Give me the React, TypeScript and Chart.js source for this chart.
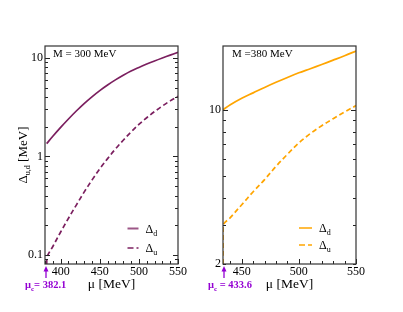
import React, { useEffect, useRef } from "react";
import { Chart, registerables } from "chart.js";
Chart.register(...registerables);

// ---------- Left panel: M = 300 MeV ----------
const muDLeft = [382.1, 390, 400, 410, 420, 430, 440, 450, 460, 470, 480, 490, 500, 510, 520, 530, 540, 550];
const deltaDLeft = [1.35, 1.6, 1.97, 2.4, 2.89, 3.44, 4.03, 4.66, 5.31, 5.98, 6.67, 7.36, 8.0, 8.65, 9.31, 9.98, 10.67, 11.4];
const muULeft = [382.1, 383, 390, 400, 410, 420, 430, 440, 450, 460, 470, 480, 490, 500, 510, 520, 530, 540, 550];
const deltaULeft = [0.081, 0.097, 0.122, 0.171, 0.236, 0.321, 0.434, 0.575, 0.748, 0.95, 1.19, 1.46, 1.77, 2.11, 2.47, 2.85, 3.25, 3.66, 4.09];
const xTicksLeft = [400, 450, 500, 550];
const yTicksLeft = [0.1, 1, 10];
const muCLeft = "382.1";
const massLeft = "M = 300 MeV";

// ---------- Right panel: M = 380 MeV ----------
const muDRight = [433.6, 440, 450, 460, 470, 480, 490, 500, 510, 520, 530, 540, 550];
const deltaDRight = [10.05, 10.6, 11.35, 12.0, 12.7, 13.4, 14.1, 14.8, 15.45, 16.15, 16.9, 17.7, 18.6];
const muURight = [433.6, 433.6, 440, 450, 460, 470, 480, 490, 500, 510, 520, 530, 540, 550];
const deltaURight = [2.0, 2.98, 3.25, 3.72, 4.26, 4.84, 5.56, 6.31, 7.11, 7.83, 8.51, 9.16, 9.82, 10.5];
const xTicksRight = [450, 500, 550];
const yTicksRight = [2, 10];
const muCRight = "433.6";
const massRight = "M =380 MeV";

const FONT = "'Liberation Serif', 'Times New Roman', serif";
const VIOLET = "#9400d3";

type Part = { t: string; size: number; bold?: boolean; dy?: number };

function font(p: Part) {
  return `${p.bold ? "bold " : ""}${p.size}px ${FONT}`;
}
function richWidth(ctx: CanvasRenderingContext2D, parts: Part[]) {
  let w = 0;
  for (const p of parts) {
    ctx.font = font(p);
    w += ctx.measureText(p.t).width;
  }
  return w;
}
function drawRich(ctx: CanvasRenderingContext2D, x: number, y: number, parts: Part[], color: string) {
  ctx.fillStyle = color;
  ctx.textAlign = "left";
  ctx.textBaseline = "alphabetic";
  let cx = x;
  for (const p of parts) {
    ctx.font = font(p);
    ctx.fillText(p.t, cx, y + (p.dy || 0));
    cx += ctx.measureText(p.t).width;
  }
}

type Spec = {
  muD: number[];
  dD: number[];
  muU: number[];
  dU: number[];
  xMin: number;
  xMax: number;
  yMin: number;
  yMax: number;
  xTicks: number[];
  yTicks: number[];
  color: string;
  padRight: number;
  yWidth: number;
  yTitle: boolean;
  mass: string;
  massX: number;
  muC: string;
  muCX: number;
  muCSep: string;
  legendX: number;
  legendLen: number;
  legendY: number[];
};

function decor(s: Spec) {
  return {
    id: "decor",
    afterDatasetsDraw(chart: any) {
      const ctx: CanvasRenderingContext2D = chart.ctx;
      const a = chart.chartArea;
      const xs = chart.scales.x;
      const ys = chart.scales.y;
      ctx.save();
      // tick marks (inward)
      ctx.strokeStyle = "#222";
      ctx.lineWidth = 1;
      ctx.beginPath();
      for (let v = Math.ceil(xs.min / 10) * 10; v <= xs.max + 1e-6; v += 10) {
        const px = Math.round(xs.getPixelForValue(v)) + 0.5;
        const len = v % 50 === 0 ? 5 : 3;
        ctx.moveTo(px, a.bottom);
        ctx.lineTo(px, a.bottom - len);
      }
      const d0 = Math.floor(Math.log10(ys.min));
      const d1 = Math.ceil(Math.log10(ys.max));
      for (let d = d0; d <= d1; d++) {
        for (let m = 1; m <= 9; m++) {
          const v = m * Math.pow(10, d);
          if (v < ys.min * 0.999 || v > ys.max * 1.001) continue;
          const py = Math.round(ys.getPixelForValue(v)) + 0.5;
          const len = m === 1 ? 5 : 3;
          ctx.moveTo(a.left, py);
          ctx.lineTo(a.left + len, py);
          ctx.moveTo(a.right, py);
          ctx.lineTo(a.right - len, py);
        }
      }
      ctx.stroke();
      // frame
      ctx.strokeStyle = "#333";
      ctx.lineWidth = 1.2;
      ctx.strokeRect(a.left, a.top, a.right - a.left, a.bottom - a.top);

      // mass annotation
      drawRich(ctx, s.massX, 57, [{ t: s.mass, size: 11 }], "#000");

      // legend
      const entries: { sub: string; dash: number[] }[] = [
        { sub: "d", dash: [] },
        { sub: "u", dash: [6, 3] },
      ];
      entries.forEach((e, i) => {
        const y = s.legendY[i];
        ctx.save();
        ctx.strokeStyle = s.color;
        ctx.globalAlpha = 0.75;
        ctx.lineWidth = 2;
        ctx.setLineDash(e.dash);
        ctx.beginPath();
        ctx.moveTo(s.legendX, y);
        ctx.lineTo(s.legendX + s.legendLen, y);
        ctx.stroke();
        ctx.restore();
        drawRich(
          ctx,
          s.legendX + s.legendLen + 7,
          y + 4,
          [
            { t: "Δ", size: 12 },
            { t: e.sub, size: 8, dy: 3 },
          ],
          "#000"
        );
      });

      // mu_c arrow
      const ax = a.left + 1;
      ctx.strokeStyle = VIOLET;
      ctx.fillStyle = VIOLET;
      ctx.lineWidth = 1.3;
      ctx.beginPath();
      ctx.moveTo(ax, 278);
      ctx.lineTo(ax, 270);
      ctx.stroke();
      ctx.beginPath();
      ctx.moveTo(ax, 266);
      ctx.lineTo(ax - 2.5, 271.5);
      ctx.lineTo(ax + 2.5, 271.5);
      ctx.closePath();
      ctx.fill();
      drawRich(
        ctx,
        s.muCX,
        288,
        [
          { t: "μ", size: 10.5, bold: true },
          { t: "c", size: 7, bold: true, dy: 3 },
          { t: s.muCSep + s.muC, size: 10.5, bold: true },
        ],
        VIOLET
      );

      // y title with subscript
      if (s.yTitle) {
        const parts: Part[] = [
          { t: "Δ", size: 13 },
          { t: "u,d", size: 8, dy: 3 },
          { t: " [MeV]", size: 13 },
        ];
        const w = richWidth(ctx, parts);
        ctx.save();
        ctx.translate(22, (a.top + a.bottom) / 2);
        ctx.rotate(-Math.PI / 2);
        drawRich(ctx, -w / 2, 4.5, parts, "#000");
        ctx.restore();
      }
      ctx.restore();
    },
  };
}

function buildConfig(s: Spec): any {
  return {
    type: "line",
    data: {
      datasets: [
        {
          data: s.muD.map((x, i) => ({ x, y: s.dD[i] })),
          borderColor: s.color,
          borderWidth: 1.7,
          pointRadius: 0,
          tension: 0.35,
          fill: false,
        },
        {
          data: s.muU.map((x, i) => ({ x, y: s.dU[i] })),
          borderColor: s.color,
          borderWidth: 1.7,
          borderDash: [5, 3],
          pointRadius: 0,
          tension: 0.35,
          fill: false,
        },
      ],
    },
    options: {
      responsive: false,
      devicePixelRatio: 1,
      animation: false,
      events: [],
      layout: { padding: { left: 0, top: 46, right: s.padRight, bottom: 19 } },
      plugins: { legend: { display: false }, tooltip: { enabled: false } },
      scales: {
        x: {
          type: "linear",
          min: s.xMin,
          max: s.xMax,
          grid: { display: false, drawTicks: false },
          border: { display: false },
          ticks: {
            font: { family: FONT, size: 12 },
            color: "#000",
            padding: 1,
            maxRotation: 0,
            autoSkip: false,
            callback: (v: number) => String(v),
          },
          afterBuildTicks: (sc: any) => {
            sc.ticks = s.xTicks.map((v) => ({ value: v }));
          },
          afterFit: (sc: any) => {
            sc.height = 29;
          },
          title: {
            display: true,
            text: "μ [MeV]",
            font: { family: FONT, size: 13.5 },
            color: "#000",
            padding: { top: 0, bottom: 0 },
          },
        },
        y: {
          type: "logarithmic",
          min: s.yMin,
          max: s.yMax,
          grid: { display: false, drawTicks: false },
          border: { display: false },
          ticks: {
            font: { family: FONT, size: 12 },
            color: "#000",
            padding: 2,
            autoSkip: false,
            callback: (v: number) => String(v),
          },
          afterBuildTicks: (sc: any) => {
            sc.ticks = s.yTicks.map((v) => ({ value: v }));
          },
          afterFit: (sc: any) => {
            sc.width = s.yWidth;
          },
        },
      },
    },
    plugins: [decor(s)],
  };
}

const leftSpec: Spec = {
  muD: muDLeft,
  dD: deltaDLeft,
  muU: muULeft,
  dU: deltaULeft,
  xMin: 380,
  xMax: 550,
  yMin: 0.081,
  yMax: 13.2,
  xTicks: xTicksLeft,
  yTicks: yTicksLeft,
  color: "#7b1f5f",
  padRight: 22,
  yWidth: 45,
  yTitle: true,
  mass: massLeft,
  massX: 53,
  muC: muCLeft,
  muCX: 25,
  muCSep: "= ",
  legendX: 127.5,
  legendLen: 11,
  legendY: [228.5, 248],
};

const rightSpec: Spec = {
  muD: muDRight,
  dD: deltaDRight,
  muU: muURight,
  dU: deltaURight,
  xMin: 433.6,
  xMax: 550,
  yMin: 2,
  yMax: 19.6,
  xTicks: xTicksRight,
  yTicks: yTicksRight,
  color: "#ffa500",
  padRight: 47,
  yWidth: 23,
  yTitle: false,
  mass: massRight,
  massX: 32,
  muC: muCRight,
  muCX: 8,
  muCSep: " = ",
  legendX: 99,
  legendLen: 13,
  legendY: [228, 245],
};

function Panel({ spec, left, width }: { spec: Spec; left: number; width: number }) {
  const ref = useRef<HTMLCanvasElement | null>(null);
  useEffect(() => {
    if (!ref.current) return;
    const chart = new Chart(ref.current, buildConfig(spec));
    return () => chart.destroy();
  }, [spec]);
  return (
    <canvas
      ref={ref}
      width={width}
      height={312}
      style={{ position: "absolute", left, top: 0, width, height: 312 }}
    />
  );
}

export default function App() {
  return (
    <div
      style={{
        position: "absolute",
        left: 0,
        top: 0,
        width: 403,
        height: 312,
        background: "#fff",
        overflow: "hidden",
      }}
    >
      <Panel spec={leftSpec} left={0} width={200} />
      <Panel spec={rightSpec} left={200} width={203} />
    </div>
  );
}
